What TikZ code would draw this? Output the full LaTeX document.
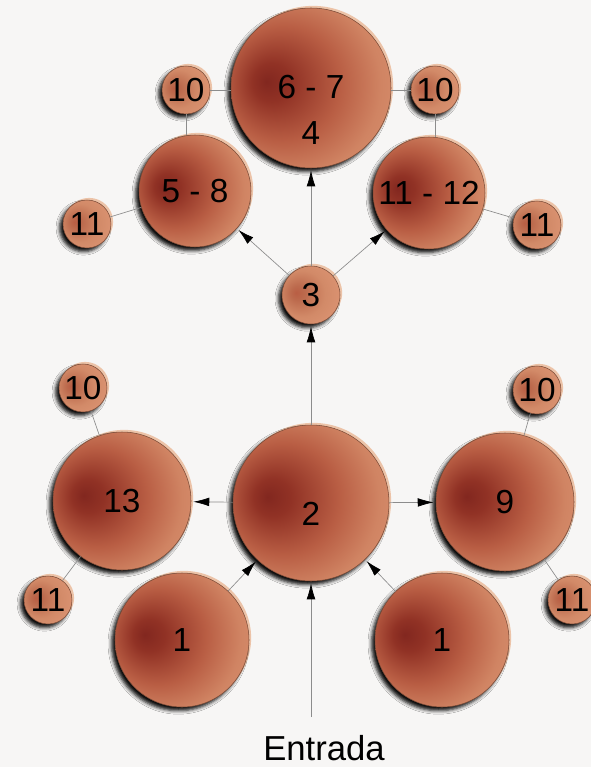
\documentclass[tikz,border=0pt]{standalone}
\usepackage{fontspec}
\setmainfont{Liberation Sans}
\usetikzlibrary{arrows.meta,shadows,shadows.blur}
\definecolor{bg}{HTML}{F7F6F5}
\definecolor{sdark}{HTML}{82271F}
\definecolor{sdarkb}{HTML}{913225}
\definecolor{smid}{HTML}{B95E44}
\definecolor{slight}{HTML}{D08463}
\definecolor{sedge}{HTML}{DB9372}
\definecolor{tmid}{HTML}{BC6A4D}
\definecolor{tlight}{HTML}{D28A68}
\definecolor{rim}{HTML}{7A4A36}
\definecolor{halo}{HTML}{EBBB9B}
\definecolor{conncol}{HTML}{8C8C8C}
\pgfdeclareradialshading{sphereshade}{\pgfpoint{-14bp}{2bp}}{%
  color(0bp)=(sdark); color(6bp)=(sdarkb); color(18bp)=(smid); color(28bp)=(slight); color(38bp)=(sedge); color(50bp)=(sedge)}
\pgfdeclareradialshading{smallshade}{\pgfpoint{-13bp}{2bp}}{%
  color(0bp)=(smid); color(6bp)=(tmid); color(20bp)=(tlight); color(32bp)=(sedge); color(50bp)=(sedge)}
\tikzset{
  ball/.style={circle, inner sep=0pt, minimum size=#1*1.5pt, shading=sphereshade, draw=rim, line width=0.4pt,
    general shadow={fill=halo, fill opacity=0.85, shadow xshift=1.6pt, shadow yshift=1.6pt},
    blur shadow={shadow xshift=-2.6pt, shadow yshift=-2.8pt, shadow blur radius=2.6pt, shadow opacity=95},
    font=\fontsize{25}{30}\selectfont},
  sball/.style={ball=#1, shading=smallshade},
  numtext/.style={font=\fontsize{25}{34.5}\selectfont, align=center, inner sep=0pt},
  conn/.style={draw=conncol, line width=0.5pt},
  arr/.style={conn, shorten >=1.5pt, -{Latex[length=12pt,width=6.5pt,color=black]}},
}
\begin{document}
\begin{tikzpicture}[x=0.75pt,y=-0.75pt]
\fill[bg] (0,0) rectangle (591,767);
\useasboundingbox (0,0) rectangle (591,767);
% upper group
\node[ball=80] (A) at (311,88) {};
\node[numtext] (Atxt) at (311,110) {6 - 7\\4};
\node[ball=56] (B) at (195,191) {5 - 8};
\node[ball=56] (C) at (429,193) {11 - 12};
\node[sball=24] (tA) at (186,90) {10};
\node[sball=24] (tC) at (435,90) {10};
\node[sball=24] (eB) at (87,224) {11};
\node[sball=24] (eC) at (537,225) {11};
\node[sball=29] (D) at (311,295) {3};
% lower group
\node[ball=78] (E) at (311,503) {};
\node[numtext] (Etxt) at (311,514) {2};
\node[ball=69] (F) at (122,501) {13};
\node[ball=69] (G) at (505,502) {9};
\node[ball=67] (H) at (182,640) {1};
\node[ball=67] (I) at (442,640) {1};
\node[sball=24] (tF) at (83,388) {10};
\node[sball=24] (eF) at (48,600) {11};
\node[sball=24] (tG) at (537,390) {10};
\node[sball=24] (eG) at (572,600) {11};
\coordinate (entry) at (311,717);
\node[font=\fontsize{26}{30}\selectfont, inner sep=0pt] (ent) at (324,748) {Entrada};
% plain connectors
\draw[conn] (tA) -- (tA -| A.west);
\draw[conn] (tA) -- (tA |- B.north);
\draw[conn] (eB) -- (B);
\draw[conn] (tC) -- (tC -| A.east);
\draw[conn] (tC) -- (tC |- C.north);
\draw[conn] (eC) -- (C);
\draw[conn] (tF) -- (F);
\draw[conn] (eF) -- (F);
\draw[conn] (tG) -- (G);
\draw[conn] (eG) -- (G);
% arrows
\draw[arr] (D) -- (A);
\draw[arr] (D) -- (B);
\draw[arr] (D) -- (C);
\draw[arr] (E) -- (D);
\draw[arr] (E) -- (F);
\draw[arr] (E) -- (G);
\draw[arr] (H) -- (E);
\draw[arr] (I) -- (E);
\draw[arr] (entry) -- (E);
\end{tikzpicture}
\end{document}
